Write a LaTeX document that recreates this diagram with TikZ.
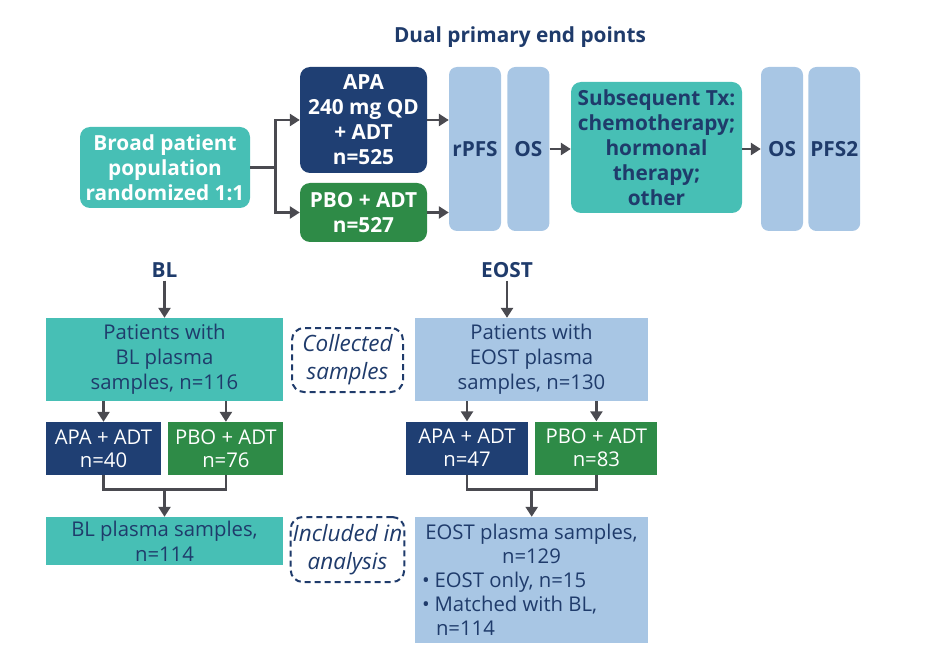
\documentclass[tikz,border=0pt]{standalone}
\usepackage{fontspec}
\setmainfont{Open Sans}
\usepackage{tikz}
\usetikzlibrary{positioning, arrows.meta, calc}
\definecolor{tealbox}{RGB}{71,191,181}
\definecolor{navybox}{RGB}{31,63,115}
\definecolor{greenbox}{RGB}{46,139,71}
\definecolor{skybox}{RGB}{168,198,228}
\definecolor{txtblue}{RGB}{31,59,107}
\definecolor{arrgray}{RGB}{74,74,80}
\tikzset{
  lbl/.style={font=\bfseries\fontsize{20.8}{25}\selectfont, text=txtblue, inner sep=1pt},
  topbox/.style={align=center, inner sep=2pt, rounded corners=10pt, font=\bfseries\fontsize{20.8}{25}\selectfont},
  endpt/.style={topbox, fill=skybox, text=txtblue, minimum height=164pt, rounded corners=8pt},
  lowbox/.style={align=center, inner sep=2pt, font=\fontsize{20.3}{25}\selectfont, text=txtblue},
  armbox/.style={lowbox, text=white, font=\fontsize{20.3}{23}\selectfont, minimum width=115pt, minimum height=53pt},
  notebox/.style={lowbox, draw=txtblue, dash pattern=on 6pt off 4pt, line width=2pt, rounded corners=12pt, font=\itshape\fontsize{22.5}{28}\selectfont, minimum width=111pt},
  arr/.style={-{Triangle[length=10pt, width=12pt]}, line width=2.8pt, draw=arrgray},
  link/.style={line width=2.8pt, draw=arrgray},
}
\begin{document}
\begin{tikzpicture}[x=1pt, y=-1pt, node distance=6pt]
\useasboundingbox (0,0) rectangle (926,652);
% study design
\node[lbl] (ttl) at (520,37) {Dual primary end points};
\node[topbox, fill=tealbox, text=white, minimum width=170pt, minimum height=81pt] (bpp) at (165,167.5) {Broad patient\\population\\randomized 1:1};
\node[topbox, fill=navybox, text=white, minimum width=127pt, minimum height=106pt] (apa) at (363.5,120) {APA\\240 mg QD\\+ ADT\\n=525};
\node[topbox, fill=greenbox, text=white, minimum width=127pt, minimum height=59pt] (pbo) at (363.5,212.5) {PBO + ADT\\n=527};
\node[endpt, minimum width=52pt] (rpfs) at (475,149) {rPFS};
\node[endpt, minimum width=42pt, right=of rpfs] (os) {OS};
\node[topbox, fill=tealbox, text=txtblue, minimum width=171pt, minimum height=131pt] (subtx) at (656.5,147.5) {Subsequent Tx:\\chemotherapy;\\hormonal\\therapy;\\other};
\node[endpt, minimum width=42pt] (os2) at (782,149) {OS};
\node[endpt, minimum width=50pt, right=5pt of os2] (pfs2) {PFS2};
\draw[link] (bpp.east) -- ++(25,0) coordinate (fork);
\draw[arr] (fork) |- (apa.west);
\draw[arr] (fork) |- (pbo.west);
\draw[arr] (apa.east) -- (apa.east -| rpfs.west);
\draw[arr] (pbo.east) -- (pbo.east -| rpfs.west);
\draw[arr] (os.east) -- (os.east -| subtx.west);
\draw[arr] (subtx.east |- os.east) -- (os2.west);
% baseline samples
\node[lbl] (bl) at (164.5,270) {BL};
\node[lowbox, fill=tealbox, minimum width=237pt, minimum height=83pt] (blpat) at (164.5,359.5) {Patients with\\BL plasma\\samples, n=116};
\node[armbox, fill=navybox] (blapa) at (103.5,448.5) {APA + ADT\\n=40};
\node[armbox, fill=greenbox, right=7pt of blapa] (blpbo) {PBO + ADT\\n=76};
\node[lowbox, fill=tealbox, minimum width=237pt, minimum height=48pt] (blpl) at (164.5,541) {BL plasma samples,\\n=114};
\node[notebox, minimum height=64pt] (coll) at (347.5,360) {Collected\\samples};
\node[notebox, minimum height=65pt] (incl) at (347.5,549.5) {Included in\\analysis};
\draw[arr] (bl.south) ++(0,2) -- (blpat.north);
\draw[arr] (blapa.north |- blpat.south) -- (blapa.north);
\draw[arr] (blpbo.north |- blpat.south) -- (blpbo.north);
\draw[link] (blapa.south) -- ++(0,14) coordinate (blj) -| (blpbo.south);
\draw[arr] (blpl.north |- blj) -- (blpl.north);
% end-of-study samples
\node[lbl] (eost) at (507,270) {EOST};
\node[lowbox, fill=skybox, minimum width=233pt, minimum height=83pt] (eopat) at (531.5,359.5) {Patients with\\EOST plasma\\samples, n=130};
\node[armbox, fill=navybox, minimum width=122pt] (eoapa) at (467,448) {APA + ADT\\n=47};
\node[armbox, fill=greenbox, minimum width=122pt, right=7pt of eoapa] (eopbo) {PBO + ADT\\n=83};
\node[lowbox, fill=skybox, minimum width=233pt, minimum height=126pt, font=\fontsize{20.3}{24}\selectfont] (eopl) at (531.5,580) {EOST plasma samples,\\n=129\\
  \makebox[225pt][l]{\hspace{3pt}\textbullet\hspace{5pt}EOST only, n=15}\\
  \makebox[225pt][l]{\hspace{3pt}\textbullet\hspace{5pt}Matched with BL,}\\
  \makebox[225pt][l]{\hspace{17pt}n=114}};
\draw[arr] (eost.south) ++(0,2) -- (eopat.north -| eost.south);
\draw[arr] (eoapa.north |- eopat.south) -- (eoapa.north);
\draw[arr] (eopbo.north |- eopat.south) -- (eopbo.north);
\draw[link] (eoapa.south) -- ++(0,15) coordinate (eoj) -| (eopbo.south);
\draw[arr] ($(eoj)!0.5!(eoj -| eopbo.south)$) -- (eopl.north -| {$(eoj)!0.5!(eoj -| eopbo.south)$});
\end{tikzpicture}
\end{document}
